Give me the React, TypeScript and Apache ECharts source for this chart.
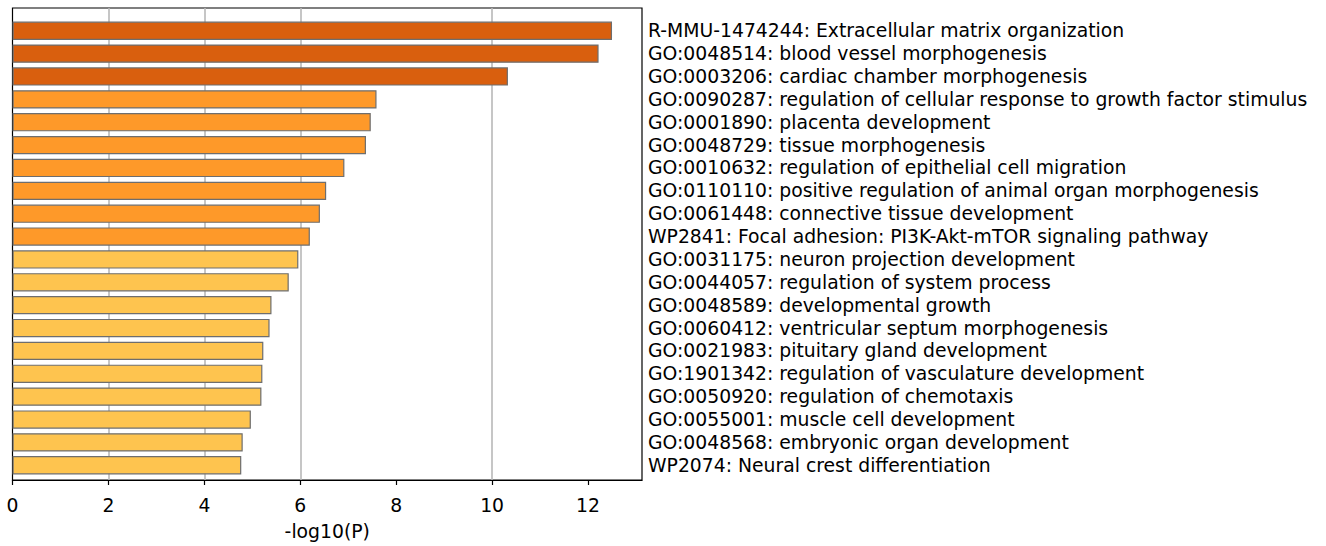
import React, { useEffect, useRef } from "react";
import * as echarts from "echarts";

const categories: string[] = [
  "R-MMU-1474244: Extracellular matrix organization",
  "GO:0048514: blood vessel morphogenesis",
  "GO:0003206: cardiac chamber morphogenesis",
  "GO:0090287: regulation of cellular response to growth factor stimulus",
  "GO:0001890: placenta development",
  "GO:0048729: tissue morphogenesis",
  "GO:0010632: regulation of epithelial cell migration",
  "GO:0110110: positive regulation of animal organ morphogenesis",
  "GO:0061448: connective tissue development",
  "WP2841: Focal adhesion: PI3K-Akt-mTOR signaling pathway",
  "GO:0031175: neuron projection development",
  "GO:0044057: regulation of system process",
  "GO:0048589: developmental growth",
  "GO:0060412: ventricular septum morphogenesis",
  "GO:0021983: pituitary gland development",
  "GO:1901342: regulation of vasculature development",
  "GO:0050920: regulation of chemotaxis",
  "GO:0055001: muscle cell development",
  "GO:0048568: embryonic organ development",
  "WP2074: Neural crest differentiation",
];

const values: number[] = [
  12.5, 12.22, 10.33, 7.59, 7.47, 7.37, 6.92, 6.54, 6.41, 6.2,
  5.96, 5.76, 5.4, 5.36, 5.23, 5.21, 5.19, 4.97, 4.8, 4.77,
];

const levels: number[] = [2, 2, 2, 1, 1, 1, 1, 1, 1, 1, 0, 0, 0, 0, 0, 0, 0, 0, 0, 0];
const palette: string[] = ["#FEC44F", "#FE9929", "#D95F0E"];

const xTicksMax = 13.125;
const FONT = "'DejaVu Sans', sans-serif";
const FS = 18.8;

export default function App() {
  const ref = useRef<HTMLDivElement>(null);
  useEffect(() => {
    document.body.style.margin = "0";
    if (!ref.current) return;
    const chart = echarts.init(ref.current, undefined, { renderer: "svg" });
    const hidden = "rgba(0,0,0,0)";
    const grid = "#b8b8b8";
    chart.setOption({
      animation: false,
      backgroundColor: "#fff",
      grid: [
        {
          left: 12.5,
          right: 684,
          top: 8,
          bottom: 58,
          show: true,
          borderColor: "#000",
          borderWidth: 1.2,
          backgroundColor: "transparent",
        },
        { left: 12.5, right: 684, top: 19.3, bottom: 69.3 },
      ],
      xAxis: [
        {
          gridIndex: 0,
          type: "value",
          min: 0,
          max: xTicksMax,
          interval: 2,
          axisLine: { show: true, lineStyle: { color: "#000", width: 1.2 } },
          axisTick: { show: true, length: 5, lineStyle: { color: "#000", width: 1.2 } },
          axisLabel: {
            fontSize: FS,
            color: "#000",
            margin: 16,
            fontFamily: FONT,
            showMaxLabel: false,
          },
          splitLine: {
            show: true,
            lineStyle: {
              color: [hidden, grid, grid, grid, hidden, grid, hidden],
              width: 1.6,
            },
          },
          name: "-log10(P)",
          nameLocation: "middle",
          nameGap: 42,
          nameTextStyle: { fontSize: FS, color: "#000", fontFamily: FONT },
        },
        { gridIndex: 1, type: "value", min: 0, max: xTicksMax, show: false },
      ],
      yAxis: [
        { gridIndex: 0, type: "value", min: 0, max: 1, show: false },
        {
          gridIndex: 1,
          type: "category",
          data: categories,
          inverse: true,
          position: "right",
          axisLine: { show: false },
          axisTick: { show: false },
          splitLine: { show: false },
          axisLabel: {
            interval: 0,
            margin: 6,
            fontSize: FS,
            color: "#000",
            fontFamily: FONT,
            align: "left",
          },
        },
      ],
      series: [
        {
          type: "bar",
          xAxisIndex: 1,
          yAxisIndex: 1,
          barCategoryGap: "20%",
          data: values.map((v, i) => ({
            value: v,
            itemStyle: {
              color: palette[levels[i]],
              borderColor: "#6e6e6e",
              borderWidth: 1.2,
            },
          })),
        },
      ],
    });
    return () => chart.dispose();
  }, []);
  return <div ref={ref} style={{ width: 1326, height: 546 }} />;
}
